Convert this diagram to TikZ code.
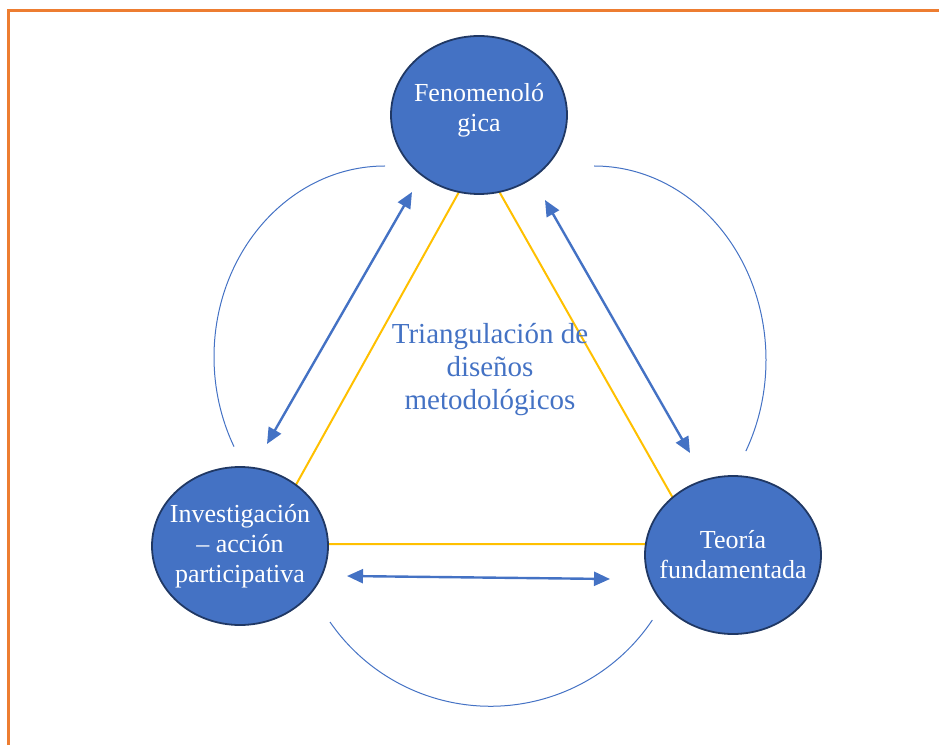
\documentclass[tikz,border=0pt]{standalone}
\usepackage{fontspec}
\setmainfont{Liberation Serif}
\usetikzlibrary{positioning,shapes.geometric,arrows.meta,backgrounds}
\definecolor{azul}{HTML}{4472C4}
\definecolor{borde}{HTML}{203864}
\definecolor{amarillo}{HTML}{FFC000}
\definecolor{naranja}{HTML}{ED7D31}

\begin{document}
\begin{tikzpicture}[x=1pt,y=1pt,on grid,
   fase/.style={ellipse,draw=borde,fill=azul,line width=1.8pt,minimum width=176pt,minimum height=158pt,inner xsep=-20pt,inner ysep=0pt,text=white,align=center,font=\fontsize{26}{30}\selectfont},
   lado/.style={draw=amarillo,line width=2pt},
   flecha/.style={color=azul,line width=2.4pt,{Triangle[length=16pt,width=14pt]}-{Triangle[length=16pt,width=14pt]}},
   arco/.style={draw=azul,line width=1pt}]
   \useasboundingbox (0,0) rectangle (939,745);
   \draw[naranja,line width=2.7pt] (8.7,0) -- (8.7,734.7) -- (939,734.7);
   \node[fase,text depth=16pt] (fen) at (479,630) {Fenomenoló\\gica};
   \node[fase] (inv) [below left=431pt and 239pt of fen] {Investigación\\– acción\\participativa};
   \node[fase] (teo) [below right=440pt and 254pt of fen] {Teoría\\fundamentada};
   \node[text=azul,align=center,font=\fontsize{29}{33}\selectfont] (tri) [below right=255pt and 11pt of fen] {Triangulación de\\diseños\\metodológicos};
   \coordinate[below=41pt of fen] (vf);
   \coordinate[above right=2pt and 23pt of inv] (vi);
   \coordinate[above left=11pt and 34pt of teo] (vt);
   \begin{scope}[on background layer]
      \draw[lado] (vf) -- (vi) -- (vt) -- cycle;
   \end{scope}
   \coordinate[below left=77pt and 67pt of fen] (f1);
   \coordinate[above right=102pt and 27pt of inv] (i1);
   \coordinate[below right=85pt and 66pt of fen] (f2);
   \coordinate[above left=102pt and 43pt of teo] (t1);
   \coordinate[below right=30pt and 107pt of inv] (i2);
   \coordinate[below left=24pt and 123pt of teo] (t2);
   \path[flecha]
   (f1) edge (i1)
   (f2) edge (t1)
   (i2) edge (t2);
   \coordinate[below left=51pt and 94pt of fen] (a1);
   \coordinate[below right=51pt and 115pt of fen] (a2);
   \coordinate[below right=76pt and 90pt of inv] (a3);
   \draw[arco] (a1) arc[start angle=90,end angle=208,x radius=171,y radius=191];
   \draw[arco] (a2) arc[start angle=90,end angle=-28,x radius=172,y radius=194];
   \draw[arco] (a3) arc[start angle=214.6,end angle=326.1,radius=195];
\end{tikzpicture}
\end{document}
